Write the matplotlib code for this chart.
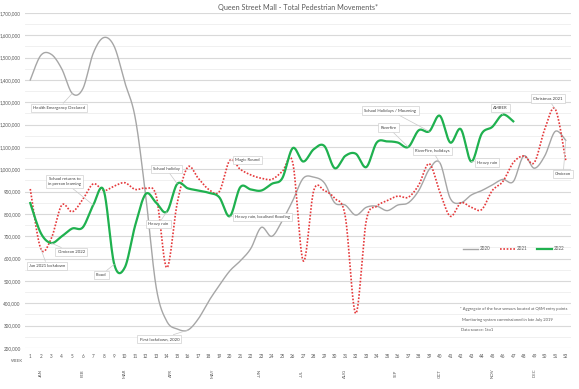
import numpy as np
import matplotlib
matplotlib.use("Agg")
import matplotlib.pyplot as plt
from matplotlib.ticker import MultipleLocator, FuncFormatter
import matplotlib.transforms as mtransforms

plt.rcParams['font.family'] = ['Lato', 'DejaVu Sans']

weeks = list(range(1, 53))
s2020 = [1400000, 1510000, 1515000, 1450000, 1340000, 1360000, 1520000, 1590000, 1550000, 1390000,
         1230000, 880000, 470000, 320000, 285000, 280000, 330000, 410000, 480000, 545000,
         590000, 645000, 740000, 700000, 770000, 860000, 960000, 965000, 940000, 850000,
         840000, 795000, 830000, 835000, 815000, 840000, 850000, 905000, 1000000, 1030000,
         870000, 850000, 885000, 905000, 930000, 955000, 945000, 1060000, 1005000, 1060000,
         1170000, 1130000]
s2021 = [912000, 645000, 690000, 840000, 810000, 865000, 935000, 905000, 925000, 940000,
         910000, 915000, 880000, 560000, 850000, 1010000, 960000, 910000, 900000, 1040000,
         1000000, 975000, 960000, 955000, 990000, 1030000, 590000, 905000, 905000, 870000,
         790000, 355000, 770000, 835000, 860000, 880000, 875000, 930000, 1025000, 900000,
         790000, 850000, 830000, 820000, 905000, 945000, 1030000, 1060000, 1030000, 1180000,
         1270000, 1040000]
s2022 = [849000, 715000, 670000, 700000, 735000, 740000, 840000, 905000, 575000, 560000,
         750000, 890000, 850000, 810000, 935000, 915000, 905000, 895000, 875000, 790000,
         920000, 910000, 905000, 935000, 960000, 1095000, 1035000, 1090000, 1105000, 1005000,
         1060000, 1070000, 1010000, 1120000, 1125000, 1120000, 1100000, 1175000, 1170000, 1240000,
         1120000, 1180000, 1035000, 1160000, 1190000, 1245000, 1215000]
series_names = ['2020', '2021', '2022']
months = ['JAN', 'FEB', 'MAR', 'APR', 'MAY', 'JUN', 'JUL', 'AUG', 'SEP', 'OCT', 'NOV', 'DEC']
month_pos = [2, 6, 10, 14.4, 18.4, 22.9, 26.9, 31, 35.8, 40, 45, 49]

# annotations: (text, series index, week, text_week, text_value)
notes = [
    ("Health Emergency Declared", 0, 5, 3.75, 1276000),
    ("School returns to\nin person learning", 2, 7, 4.25, 944000),
    ("Omicron 2022", 2, 3, 4.9, 630000),
    ("Jan 2021 lockdown", 1, 2, 2.6, 568000),
    ("Flood", 2, 9, 7.76, 527000),
    ("First lockdown, 2020", 0, 16, 13.3, 240000),
    ("School holiday", 2, 15, 13.95, 1003000),
    ("Heavy rain", 2, 14, 13.2, 754000),
    ("Magic Round", 1, 20, 21.7, 1041000),
    ("Heavy rain, localised flooding", 2, 20, 23.1, 787000),
    ("School Holidays / Mourning", 2, 39, 35.3, 1263000),
    ("Riverfire", 2, 37, 35.1, 1187000),
    ("RiverFire, holidays", 0, 40, 39.3, 1083000),
    ("Heavy rain", 2, 43, 44.5, 1030000),
    ("AMBER", 2, 46, 45.8, 1276000),
    ("Christmas 2021", 1, 51, 50.3, 1317000),
    ("Omicron", 0, 52, 51.76, 980000),
]


def smooth(x, y, n=24):
    P = np.column_stack([np.asarray(x, float), np.asarray(y, float)])
    Pp = np.vstack([P[0], P, P[-1]])
    t = np.linspace(0, 1, n, endpoint=False)[:, None]
    out = []
    for i in range(len(P) - 1):
        p0, p1, p2, p3 = Pp[i], Pp[i + 1], Pp[i + 2], Pp[i + 3]
        b1 = p1 + (p2 - p0) / 6
        b2 = p2 - (p3 - p1) / 6
        out.append((1 - t) ** 3 * p1 + 3 * (1 - t) ** 2 * t * b1 + 3 * (1 - t) * t ** 2 * b2 + t ** 3 * p2)
    out.append(P[-1:])
    return np.vstack(out)


fig = plt.figure(figsize=(5.79, 3.89), dpi=100)
ax = fig.add_axes([25 / 579, 1 - 348 / 389, 546 / 579, 335 / 389])

ax.set_xlim(0.5, 52.5)
ax.set_ylim(200000, 1700000)
ax.yaxis.set_major_locator(MultipleLocator(100000))
ax.yaxis.set_minor_locator(MultipleLocator(50000))
ax.yaxis.set_major_formatter(FuncFormatter(lambda v, p: f"{int(v):,}"))
ax.set_xticks(weeks)
ax.set_xticklabels([str(w) for w in weeks])
ax.grid(axis='y', which='major', color='#d9d9d9', lw=0.8)
ax.grid(axis='y', which='minor', color='#eeeeee', lw=0.6)
ax.set_axisbelow(True)
for sp in ax.spines.values():
    sp.set_visible(False)
ax.tick_params(axis='both', which='both', length=0, labelsize=3.3, colors='#595959')
ax.tick_params(axis='x', pad=4)
ax.tick_params(axis='y', pad=3)

colors = ['#a6a6a6', '#e5393b', '#1fb14f']
data = [s2020, s2021, s2022]
c0 = smooth(weeks[:len(s2020)], s2020)
ax.plot(c0[:, 0], c0[:, 1], color=colors[0], lw=1.0, label=series_names[0], zorder=3)
c1 = smooth(weeks[:len(s2021)], s2021)
ax.plot(c1[:, 0], c1[:, 1], color=colors[1], lw=1.2, ls=(0, (1, 1)), label=series_names[1], zorder=4)
c2 = smooth(weeks[:len(s2022)], s2022)
ax.plot(c2[:, 0], c2[:, 1], color=colors[2], lw=1.6, label=series_names[2], zorder=5)

for text, si, wk, tx, ty in notes:
    ax.annotate(text, xy=(wk, data[si][wk - 1]), xytext=(tx, ty), fontsize=3.1, color='#404040',
                ha='center', va='center', linespacing=1.3,
                bbox=dict(boxstyle='square,pad=0.5', fc='white', ec='#d0d0d0', lw=0.5),
                arrowprops=dict(arrowstyle='-', color='#c8c8c8', lw=0.5, shrinkA=0, shrinkB=0),
                zorder=6)

ax.set_title("Queen Street Mall - Total Pedestrian Movements*", fontsize=5.2, color='#595959', pad=2.5)

trans = mtransforms.blended_transform_factory(ax.transData, ax.transAxes)
for m, pos in zip(months, month_pos):
    ax.text(pos, -0.075, m, rotation=90, fontsize=3.1, color='#595959', ha='center', va='center',
            transform=trans)
ax.text(-0.015, -0.039, "WEEK", fontsize=3.1, color='#595959', ha='center', va='center',
        transform=ax.transAxes)

leg = ax.legend(loc='center', bbox_to_anchor=(0.895, 0.296), ncol=3, fontsize=3.3, frameon=False,
                handlelength=3.2, handletextpad=0.4, columnspacing=2.2)
for t in leg.get_texts():
    t.set_color('#595959')

foot = ["* Aggregate of the four sensors located at QSM entry points",
        "Monitoring system commissioned in late July 2019",
        "Data source: 1to1"]
foot_y = [0.116, 0.084, 0.054]
foot_x = [0.797, 0.801, 0.799]
for s, fx, fy in zip(foot, foot_x, foot_y):
    ax.text(fx, fy, s, fontsize=3.0, color='#595959', ha='left', va='center', transform=ax.transAxes)

fig.savefig("out.png", dpi=100)
